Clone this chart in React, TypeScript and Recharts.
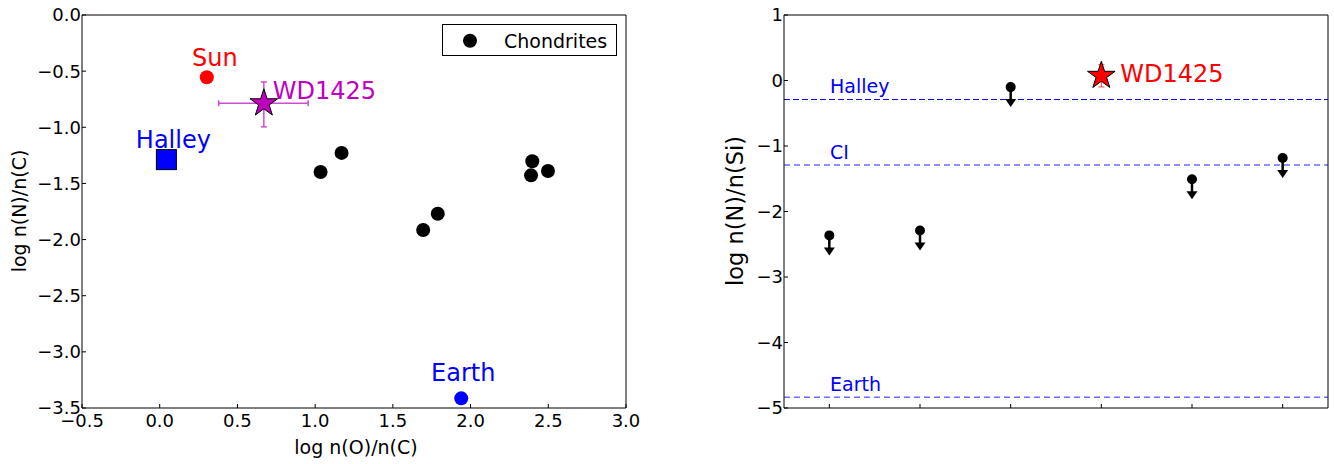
import React from 'react';
import { ScatterChart, Scatter, XAxis, YAxis, ErrorBar, ReferenceLine, Legend } from 'recharts';

const FONT = 'DejaVu Sans, Verdana, sans-serif';

// ---------- Left panel data: log n(O)/n(C) vs log n(N)/n(C) ----------
const leftXTicks = [-0.5, 0, 0.5, 1, 1.5, 2, 2.5, 3];
const leftYTicks = [-3.5, -3, -2.5, -2, -1.5, -1, -0.5, 0];
const chondriteName = 'Chondrites';
const chondriteOC = [1.035, 1.17, 1.695, 1.789, 2.397, 2.389, 2.498];
const chondriteNC = [-1.398, -1.228, -1.915, -1.77, -1.303, -1.428, -1.389];
const sunOC = [0.303];
const sunNC = [-0.555];
const halleyOC = [0.043];
const halleyNC = [-1.288];
const earthOC = [1.94];
const earthNC = [-3.414];
const wdOC = [0.67];
const wdNC = [-0.786];
const wdOCErr = [[0.29, 0.285]];
const wdNCErr = [[0.21, 0.19]];

// ---------- Right panel data: log n(N)/n(Si) ----------
const rightXTicks = [1, 2, 3, 4, 5, 6];
const rightYTicks = [-5, -4, -3, -2, -1, 0, 1];
const limitIndex = [1, 2, 3, 5, 6];
const limitNSi = [-2.365, -2.289, -0.101, -1.508, -1.182];
const wdIndex = [4];
const wdNSi = [0.072];
const wdNSiErr = [0.17];
const halleyNSi = -0.29;
const ciNSi = -1.29;
const earthNSi = -4.837;

const labelSun = 'Sun';
const labelHalley = 'Halley';
const labelEarth = 'Earth';
const labelWD = 'WD1425';
const labelCI = 'CI';

const chondrites = chondriteOC.map((x, i) => ({ x, y: chondriteNC[i] }));
const sun = sunOC.map((x, i) => ({ x, y: sunNC[i] }));
const halley = halleyOC.map((x, i) => ({ x, y: halleyNC[i] }));
const earth = earthOC.map((x, i) => ({ x, y: earthNC[i] }));
const wdLeft = wdOC.map((x, i) => ({ x, y: wdNC[i], ex: wdOCErr[i], ey: wdNCErr[i] }));
const limits = limitIndex.map((x, i) => ({ x, y: limitNSi[i] }));
const wdRight = wdIndex.map((x, i) => ({ x, y: wdNSi[i], ey: wdNSiErr[i] }));

const TICK = 4;
const minus = (s: string) => s.replace('-', '\u2212');
const fmt1 = (v: number) => minus(v.toFixed(1));
const fmt0 = (v: number) => minus(v.toFixed(0));

const starPath = (cx: number, cy: number, R: number) => {
  const pts: string[] = [];
  for (let k = 0; k < 10; k++) {
    const r = k % 2 === 0 ? R : R * 0.381966;
    const a = -Math.PI / 2 + (k * Math.PI) / 5;
    pts.push(`${(cx + r * Math.cos(a)).toFixed(2)},${(cy + r * Math.sin(a)).toFixed(2)}`);
  }
  return 'M' + pts.join('L') + 'Z';
};

const txt = (x: number, y: number, s: string, color: string, size: number, anchor: string = 'middle') => (
  <text x={x} y={y} fill={color} fontSize={size} fontFamily={FONT} textAnchor={anchor as any}>
    {s}
  </text>
);

// ---------- tick renderers (inward ticks like matplotlib) ----------
const leftTick = (fmt: (v: number) => string) => (p: any) => (
  <g>
    <line x1={p.x} x2={p.x + TICK} y1={p.y} y2={p.y} stroke="#000" />
    <text x={p.x - 1} y={p.y} dy="0.36em" textAnchor="end" fontSize={18} fontFamily={FONT} fill="#000">
      {fmt(p.payload.value)}
    </text>
  </g>
);
const bottomTick = (fmt: ((v: number) => string) | null) => (p: any) => (
  <g>
    <line x1={p.x} x2={p.x} y1={p.y} y2={p.y - TICK} stroke="#000" />
    {fmt ? (
      <text x={p.x} y={p.y + 19} textAnchor="middle" fontSize={18} fontFamily={FONT} fill="#000">
        {fmt(p.payload.value)}
      </text>
    ) : null}
  </g>
);
const topTick = (p: any) => <line x1={p.x} x2={p.x} y1={p.y} y2={p.y + TICK} stroke="#000" />;
const rightTick = (p: any) => <line x1={p.x} x2={p.x - TICK} y1={p.y} y2={p.y} stroke="#000" />;

// ---------- marker shapes ----------
const chondriteShape = (p: any) => <circle cx={p.cx} cy={p.cy} r={7} fill="#000" />;
const sunShape = (p: any) => (
  <g>
    <circle cx={p.cx} cy={p.cy} r={7} fill="#ff0000" />
    {txt(p.cx + 8, p.cy - 11, labelSun, '#ff0000', 24)}
  </g>
);
const halleyShape = (p: any) => (
  <g>
    <rect x={p.cx - 10} y={p.cy - 10} width={20} height={20} fill="#0000ff" stroke="#000" strokeWidth={1} />
    {txt(p.cx + 7, p.cy - 11.5, labelHalley, '#0000ff', 24)}
  </g>
);
const earthShape = (p: any) => (
  <g>
    <circle cx={p.cx} cy={p.cy} r={7} fill="#0000ff" />
    {txt(p.cx + 2, p.cy - 17, labelEarth, '#0000ff', 24)}
  </g>
);
const wdLeftShape = (p: any) => (
  <g>
    <path d={starPath(p.cx, p.cy, 14.5)} fill="#bf00bf" stroke="#000" strokeWidth={1} />
    {txt(p.cx + 9, p.cy - 4, labelWD, '#bf00bf', 24, 'start')}
  </g>
);
const wdRightShape = (p: any) => (
  <g>
    <path d={starPath(p.cx, p.cy, 14.5)} fill="#ff0000" stroke="#000" strokeWidth={1} />
    {txt(p.cx + 19, p.cy + 6.7, labelWD, '#ff0000', 24, 'start')}
  </g>
);
const limitShape = (p: any) => {
  const cx = p.cx;
  const cy = p.cy;
  const tip = cy + 20;
  return (
    <g>
      <line x1={cx} x2={cx} y1={cy} y2={tip - 6} stroke="#000" strokeWidth={2.5} />
      <path d={`M${cx - 5.5},${tip - 8}L${cx + 5.5},${tip - 8}L${cx},${tip}Z`} fill="#000" />
      <circle cx={cx} cy={cy} r={5} fill="#000" />
    </g>
  );
};

const lineLabel = (s: string) => (props: any) => {
  const vb = props.viewBox || {};
  return (
    <text x={vb.x + 46} y={vb.y - 6} fill="#0000ff" fontSize={19} fontFamily={FONT}>
      {s}
    </text>
  );
};

const renderLegend = (props: any) => {
  const items = (props.payload || []).filter((e: any) => e.value === chondriteName);
  const shown = items.length ? items : [{ value: chondriteName }];
  return (
    <svg width={175} height={32} style={{ display: 'block' }}>
      <rect x={0.5} y={0.5} width={174} height={31} fill="#fff" stroke="#000" />
      {shown.map((e: any, i: number) => (
        <g key={i}>
          <circle cx={28} cy={16.7} r={7} fill="#000" />
          <text x={62} y={24} fontSize={19} fontFamily={FONT} fill="#000">
            {e.value}
          </text>
        </g>
      ))}
    </svg>
  );
};

const xLabelLeft = (props: any) => {
  const vb = props.viewBox || {};
  return (
    <text x={vb.x + vb.width / 2 + 2} y={vb.y + 46} textAnchor="middle" fontSize={19} fontFamily={FONT} fill="#000">
      log n(O)/n(C)
    </text>
  );
};
const yLabel = (s: string, size: number, back: number) => (props: any) => {
  const vb = props.viewBox || {};
  const bx = vb.x + vb.width - back;
  const cy = vb.y + vb.height / 2 - 0.5;
  return (
    <text
      x={bx}
      y={cy}
      transform={`rotate(-90 ${bx} ${cy})`}
      textAnchor="middle"
      fontSize={size}
      fontFamily={FONT}
      fill="#000"
    >
      {s}
    </text>
  );
};

const axisLine = { stroke: '#000', strokeWidth: 1 };

export default function App() {
  return (
    <div style={{ position: 'fixed', left: 0, top: 0, width: 1334, height: 464, display: 'flex', background: '#fff' }}>
      <ScatterChart width={668} height={464} margin={{ top: 14, right: 41, bottom: 26, left: 22 }}>
        <XAxis
          xAxisId="b"
          type="number"
          dataKey="x"
          domain={[-0.5, 3]}
          ticks={leftXTicks}
          interval={0}
          height={30}
          tickSize={0}
          tickMargin={0}
          tickLine={false}
          axisLine={axisLine}
          tick={bottomTick(fmt1)}
          label={xLabelLeft}
        />
        <XAxis
          xAxisId="t"
          orientation="top"
          type="number"
          domain={[-0.5, 3]}
          ticks={leftXTicks}
          interval={0}
          height={1}
          tickSize={0}
          tickMargin={0}
          tickLine={false}
          axisLine={axisLine}
          tick={topTick}
        />
        <YAxis
          yAxisId="l"
          type="number"
          dataKey="y"
          domain={[-3.5, 0]}
          ticks={leftYTicks}
          interval={0}
          width={60}
          tickSize={0}
          tickMargin={0}
          tickLine={false}
          axisLine={axisLine}
          tick={leftTick(fmt1)}
          label={yLabel('log n(N)/n(C)', 19, 56)}
        />
        <YAxis
          yAxisId="r"
          orientation="right"
          type="number"
          domain={[-3.5, 0]}
          ticks={leftYTicks}
          interval={0}
          width={1}
          tickSize={0}
          tickMargin={0}
          tickLine={false}
          axisLine={axisLine}
          tick={rightTick}
        />
        <Legend
          layout="vertical"
          align="center"
          verticalAlign="middle"
          content={renderLegend}
          wrapperStyle={{ position: 'absolute', left: 442, top: 24, width: 175, height: 32 }}
        />
        <Scatter xAxisId="b" yAxisId="l" name="Sun" data={sun} shape={sunShape} legendType="none" isAnimationActive={false} />
        <Scatter xAxisId="b" yAxisId="l" name="Halley" data={halley} shape={halleyShape} legendType="none" isAnimationActive={false} />
        <Scatter xAxisId="b" yAxisId="l" name="Earth" data={earth} shape={earthShape} legendType="none" isAnimationActive={false} />
        <Scatter xAxisId="b" yAxisId="l" name={chondriteName} data={chondrites} shape={chondriteShape} fill="#000" legendType="circle" isAnimationActive={false} />
        <Scatter xAxisId="b" yAxisId="l" name="WD1425" data={wdLeft} shape={wdLeftShape} legendType="none" isAnimationActive={false}>
          <ErrorBar dataKey="ex" direction="x" width={3} stroke="#d04cd0" strokeWidth={1.5} isAnimationActive={false} />
          <ErrorBar dataKey="ey" direction="y" width={3} stroke="#d04cd0" strokeWidth={1.5} isAnimationActive={false} />
        </Scatter>
      </ScatterChart>

      <ScatterChart width={666} height={464} margin={{ top: 14, right: 5, bottom: 26, left: 56 }}>
        <XAxis
          xAxisId="b"
          type="number"
          dataKey="x"
          domain={[0.5, 6.5]}
          ticks={rightXTicks}
          interval={0}
          height={30}
          tickSize={0}
          tickMargin={0}
          tickLine={false}
          axisLine={axisLine}
          tick={bottomTick(null)}
        />
        <XAxis
          xAxisId="t"
          orientation="top"
          type="number"
          domain={[0.5, 6.5]}
          ticks={rightXTicks}
          interval={0}
          height={1}
          tickSize={0}
          tickMargin={0}
          tickLine={false}
          axisLine={axisLine}
          tick={topTick}
        />
        <YAxis
          yAxisId="l"
          type="number"
          dataKey="y"
          domain={[-5, 1]}
          ticks={rightYTicks}
          interval={0}
          width={60}
          tickSize={0}
          tickMargin={0}
          tickLine={false}
          axisLine={axisLine}
          tick={leftTick(fmt0)}
          label={yLabel('log n(N)/n(Si)', 22.5, 41)}
        />
        <YAxis
          yAxisId="r"
          orientation="right"
          type="number"
          domain={[-5, 1]}
          ticks={rightYTicks}
          interval={0}
          width={1}
          tickSize={0}
          tickMargin={0}
          tickLine={false}
          axisLine={axisLine}
          tick={rightTick}
        />
        <ReferenceLine xAxisId="b" yAxisId="l" y={halleyNSi} stroke="#0000ff" strokeWidth={1} strokeDasharray="6 3" label={lineLabel(labelHalley)} />
        <ReferenceLine xAxisId="b" yAxisId="l" y={ciNSi} stroke="#6f6fff" strokeWidth={1.5} strokeDasharray="6 4" label={lineLabel(labelCI)} />
        <ReferenceLine xAxisId="b" yAxisId="l" y={earthNSi} stroke="#6f6fff" strokeWidth={1.5} strokeDasharray="6 4" label={lineLabel(labelEarth)} />
        <Scatter xAxisId="b" yAxisId="l" name="limits" data={limits} shape={limitShape} isAnimationActive={false} />
        <Scatter xAxisId="b" yAxisId="l" name="WD1425" data={wdRight} shape={wdRightShape} isAnimationActive={false}>
          <ErrorBar dataKey="ey" direction="y" width={3} stroke="#ff4040" strokeWidth={1} isAnimationActive={false} />
        </Scatter>
      </ScatterChart>
    </div>
  );
}
